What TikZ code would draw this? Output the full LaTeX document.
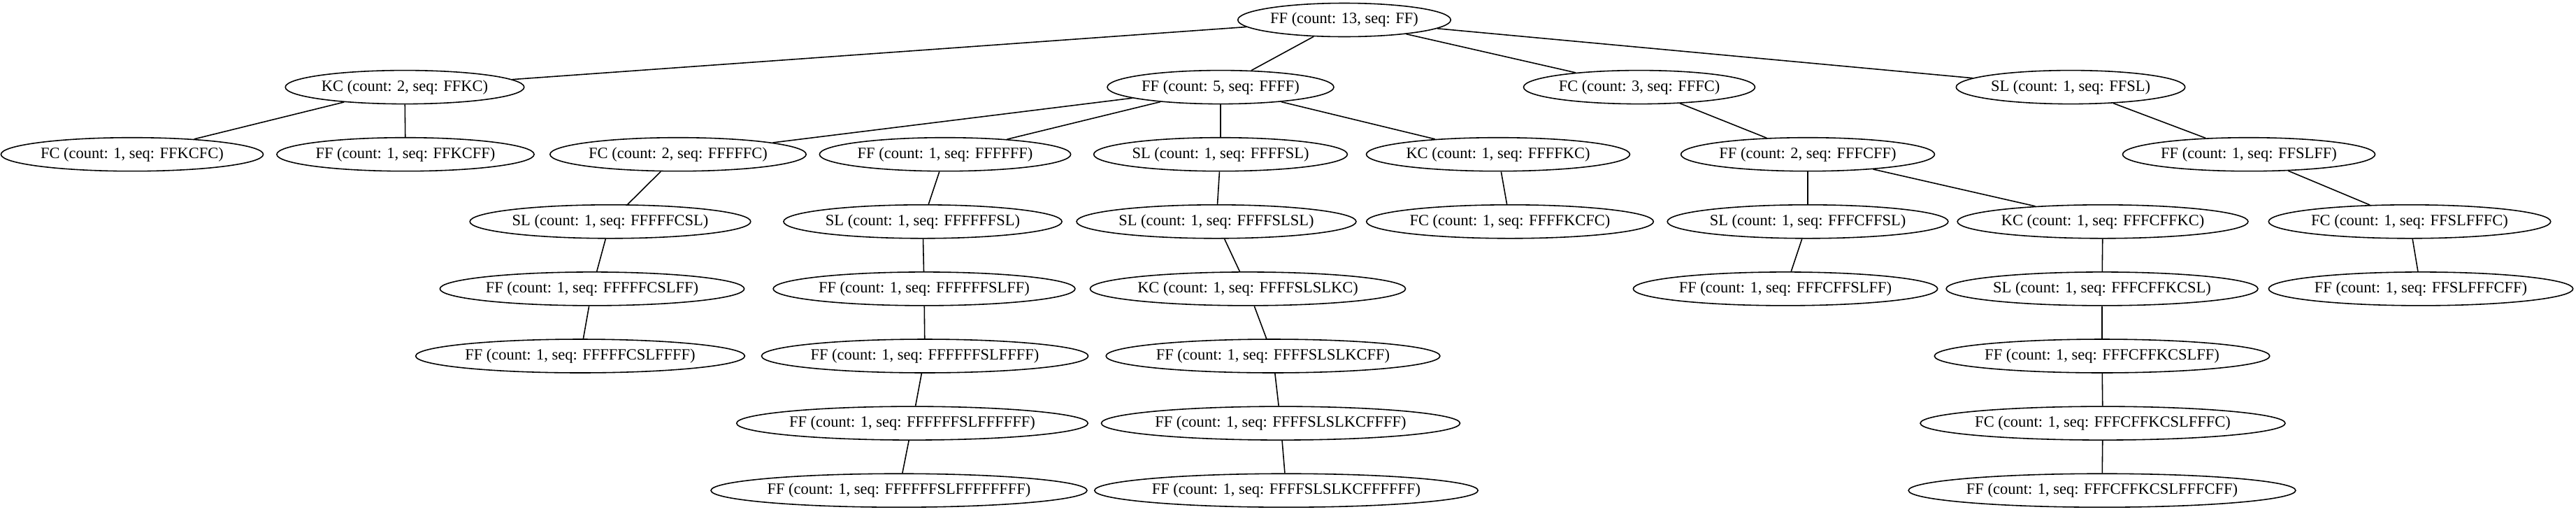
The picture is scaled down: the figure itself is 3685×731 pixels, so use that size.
\documentclass[tikz,border=0pt]{standalone}
\usepackage{fontspec}
\setmainfont{Liberation Serif}
\usetikzlibrary{shapes.geometric}

\begin{document}
\begin{tikzpicture}[x=0.02cm, y=-0.02cm, line width=0.9pt,
    seqnode/.style={draw, ellipse, inner xsep=1pt, inner ysep=0pt,
      minimum height=0.96cm, font=\fontsize{12.8}{15}\selectfont}]
    \useasboundingbox (0,0) rectangle (3685,731);

    % root
    \node[seqnode] (FF) at (1923,28.5) {FF (count: 13, seq: FF)};

    % first level
    \node[seqnode] (FFKC) at (579,124.6) {KC (count: 2, seq: FFKC)};
    \node[seqnode] (FFFF) at (1746,124.6) {FF (count: 5, seq: FFFF)};
    \node[seqnode] (FFFC) at (2345,124.6) {FC (count: 3, seq: FFFC)};
    \node[seqnode] (FFSL) at (2962,124.6) {SL (count: 1, seq: FFSL)};

    \node[seqnode] (FFKCFC) at (189,220.7) {FC (count: 1, seq: FFKCFC)};
    \node[seqnode] (FFKCFF) at (580,220.7) {FF (count: 1, seq: FFKCFF)};
    \node[seqnode] (FFFFFC) at (970,220.7) {FC (count: 2, seq: FFFFFC)};
    \node[seqnode] (FFFFFF) at (1352,220.7) {FF (count: 1, seq: FFFFFF)};
    \node[seqnode] (FFFFSL) at (1746,220.7) {SL (count: 1, seq: FFFFSL)};
    \node[seqnode] (FFFFKC) at (2143,220.7) {KC (count: 1, seq: FFFFKC)};
    \node[seqnode] (FFFCFF) at (2586,220.7) {FF (count: 2, seq: FFFCFF)};
    \node[seqnode] (FFSLFF) at (3217,220.7) {FF (count: 1, seq: FFSLFF)};

    \node[seqnode] (FFFFFCSL) at (873,316.8) {SL (count: 1, seq: FFFFFCSL)};
    \node[seqnode] (FFFFFFSL) at (1320,316.8) {SL (count: 1, seq: FFFFFFSL)};
    \node[seqnode] (FFFFSLSL) at (1740,316.8) {SL (count: 1, seq: FFFFSLSL)};
    \node[seqnode] (FFFFKCFC) at (2160,316.8) {FC (count: 1, seq: FFFFKCFC)};
    \node[seqnode] (FFFCFFSL) at (2586,316.8) {SL (count: 1, seq: FFFCFFSL)};
    \node[seqnode] (FFFCFFKC) at (3008,316.8) {KC (count: 1, seq: FFFCFFKC)};
    \node[seqnode] (FFSLFFFC) at (3447,316.8) {FC (count: 1, seq: FFSLFFFC)};

    \node[seqnode] (FFFFFCSLFF) at (847,412.9) {FF (count: 1, seq: FFFFFCSLFF)};
    \node[seqnode] (FFFFFFSLFF) at (1322,412.9) {FF (count: 1, seq: FFFFFFSLFF)};
    \node[seqnode] (FFFFSLSLKC) at (1785,412.9) {KC (count: 1, seq: FFFFSLSLKC)};
    \node[seqnode] (FFFCFFSLFF) at (2554,412.9) {FF (count: 1, seq: FFFCFFSLFF)};
    \node[seqnode] (FFFCFFKCSL) at (3007,412.9) {SL (count: 1, seq: FFFCFFKCSL)};
    \node[seqnode] (FFSLFFFCFF) at (3463,412.9) {FF (count: 1, seq: FFSLFFFCFF)};

    \node[seqnode] (FFFFFCSLFFFF) at (830,509) {FF (count: 1, seq: FFFFFCSLFFFF)};
    \node[seqnode] (FFFFFFSLFFFF) at (1323,509) {FF (count: 1, seq: FFFFFFSLFFFF)};
    \node[seqnode] (FFFFSLSLKCFF) at (1821,509) {FF (count: 1, seq: FFFFSLSLKCFF)};
    \node[seqnode] (FFFCFFKCSLFF) at (3007,509) {FF (count: 1, seq: FFFCFFKCSLFF)};

    \node[seqnode] (FFFFFFSLFFFFFF) at (1305,605.1) {FF (count: 1, seq: FFFFFFSLFFFFFF)};
    \node[seqnode] (FFFFSLSLKCFFFF) at (1832,605.1) {FF (count: 1, seq: FFFFSLSLKCFFFF)};
    \node[seqnode] (FFFCFFKCSLFFFC) at (3008,605.1) {FC (count: 1, seq: FFFCFFKCSLFFFC)};

    \node[seqnode] (FFFFFFSLFFFFFFFF) at (1286,701.2) {FF (count: 1, seq: FFFFFFSLFFFFFFFF)};
    \node[seqnode] (FFFFSLSLKCFFFFFF) at (1840,701.2) {FF (count: 1, seq: FFFFSLSLKCFFFFFF)};
    \node[seqnode] (FFFCFFKCSLFFFCFF) at (3007,701.2) {FF (count: 1, seq: FFFCFFKCSLFFFCFF)};

    % edges
    \draw (FF) -- (FFKC);
    \draw (FF) -- (FFFF);
    \draw (FF) -- (FFFC);
    \draw (FF) -- (FFSL);
    \draw (FFKC) -- (FFKCFC);
    \draw (FFKC) -- (FFKCFF);
    \draw (FFFF) -- (FFFFFC);
    \draw (FFFF) -- (FFFFFF);
    \draw (FFFF) -- (FFFFSL);
    \draw (FFFF) -- (FFFFKC);
    \draw (FFFC) -- (FFFCFF);
    \draw (FFSL) -- (FFSLFF);
    \draw (FFFFFC) -- (FFFFFCSL);
    \draw (FFFFFF) -- (FFFFFFSL);
    \draw (FFFFSL) -- (FFFFSLSL);
    \draw (FFFFKC) -- (FFFFKCFC);
    \draw (FFFCFF) -- (FFFCFFSL);
    \draw (FFFCFF) -- (FFFCFFKC);
    \draw (FFSLFF) -- (FFSLFFFC);
    \draw (FFFFFCSL) -- (FFFFFCSLFF);
    \draw (FFFFFFSL) -- (FFFFFFSLFF);
    \draw (FFFFSLSL) -- (FFFFSLSLKC);
    \draw (FFFCFFSL) -- (FFFCFFSLFF);
    \draw (FFFCFFKC) -- (FFFCFFKCSL);
    \draw (FFSLFFFC) -- (FFSLFFFCFF);
    \draw (FFFFFCSLFF) -- (FFFFFCSLFFFF);
    \draw (FFFFFFSLFF) -- (FFFFFFSLFFFF);
    \draw (FFFFSLSLKC) -- (FFFFSLSLKCFF);
    \draw (FFFCFFKCSL) -- (FFFCFFKCSLFF);
    \draw (FFFFFFSLFFFF) -- (FFFFFFSLFFFFFF);
    \draw (FFFFSLSLKCFF) -- (FFFFSLSLKCFFFF);
    \draw (FFFCFFKCSLFF) -- (FFFCFFKCSLFFFC);
    \draw (FFFFFFSLFFFFFF) -- (FFFFFFSLFFFFFFFF);
    \draw (FFFFSLSLKCFFFF) -- (FFFFSLSLKCFFFFFF);
    \draw (FFFCFFKCSLFFFC) -- (FFFCFFKCSLFFFCFF);
\end{tikzpicture}
\end{document}
